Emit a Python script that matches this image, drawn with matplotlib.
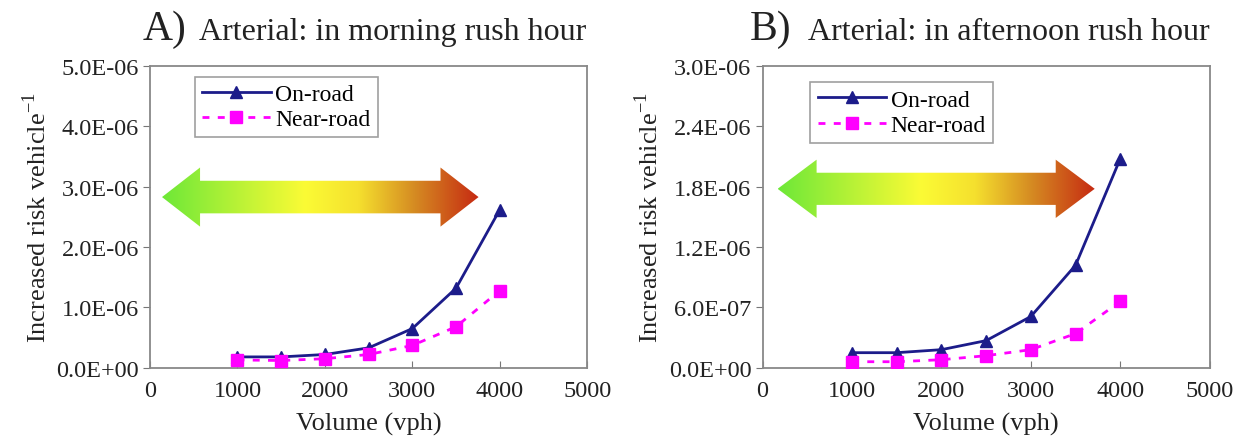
import matplotlib
matplotlib.use("Agg")
import matplotlib.pyplot as plt
import numpy as np
from matplotlib.colors import LinearSegmentedColormap
from matplotlib.patches import Polygon

plt.rcParams['font.family'] = ['Liberation Serif', 'DejaVu Serif']
plt.rcParams['mathtext.fontset'] = 'custom'
plt.rcParams['mathtext.rm'] = 'Liberation Serif'

volume = [1000, 1500, 2000, 2500, 3000, 3500, 4000]

# A) morning rush hour
on_road_a = [0.18e-6, 0.18e-6, 0.22e-6, 0.33e-6, 0.65e-6, 1.32e-6, 2.62e-6]
near_road_a = [0.13e-6, 0.12e-6, 0.15e-6, 0.22e-6, 0.37e-6, 0.68e-6, 1.28e-6]

# B) afternoon rush hour
on_road_b = [0.15e-6, 0.15e-6, 0.18e-6, 0.27e-6, 0.51e-6, 1.02e-6, 2.08e-6]
near_road_b = [0.06e-6, 0.06e-6, 0.08e-6, 0.12e-6, 0.18e-6, 0.34e-6, 0.66e-6]

yticks_a = [0, 1e-6, 2e-6, 3e-6, 4e-6, 5e-6]
yticks_b = [0, 6e-7, 1.2e-6, 1.8e-6, 2.4e-6, 3.0e-6]
xticks = [0, 1000, 2000, 3000, 4000, 5000]

grad = LinearSegmentedColormap.from_list(
    "risk", [(0, '#6ee838'), (0.45, '#fbfb35'), (0.62, '#f5e02e'),
             (0.8, '#d58a22'), (1, '#c62a12')])


def sci(v):
    return "%.1E" % v


def gradient_arrow(ax, x0, x1, yc, shaft, head, head_len):
    pts = [(x0, yc), (x0 + head_len, yc + head / 2), (x0 + head_len, yc + shaft / 2),
           (x1 - head_len, yc + shaft / 2), (x1 - head_len, yc + head / 2), (x1, yc),
           (x1 - head_len, yc - head / 2), (x1 - head_len, yc - shaft / 2),
           (x0 + head_len, yc - shaft / 2), (x0 + head_len, yc - head / 2)]
    poly = Polygon(pts, closed=True, facecolor='none', edgecolor='none',
                   transform=ax.transData)
    ax.add_patch(poly)
    img = ax.imshow(np.linspace(0, 1, 256).reshape(1, -1), cmap=grad, aspect='auto',
                    extent=[x0, x1, yc - head / 2, yc + head / 2], zorder=1,
                    interpolation='bilinear')
    img.set_clip_path(poly)


def panel(ax, on, near, yticks, arrow, leg_anchor):
    ax.plot(volume, on, color='#1c1c8a', marker='^', markersize=9, lw=2,
            label='On-road', zorder=3)
    ax.plot(volume, near, color='#ff00ff', marker='s', markersize=8.5, lw=2,
            ls=(0, (2.5, 3)), label='Near-road', zorder=3)
    ax.set_xlim(0, 5000)
    ax.set_ylim(0, yticks[-1])
    ax.set_xticks(xticks)
    ax.set_yticks(yticks)
    ax.set_yticklabels([sci(v) for v in yticks])
    ax.tick_params(axis='y', labelsize=17.5, direction='out', length=5,
                   color='#777777', labelcolor='#222222', pad=3)
    ax.tick_params(axis='x', labelsize=17.5, direction='in', length=5,
                   color='#777777', labelcolor='#222222', pad=9)
    for sp in ax.spines.values():
        sp.set_color('#888888')
        sp.set_linewidth(1.3)
    ax.set_xlabel('Volume (vph)', fontsize=19, color='#222222', labelpad=8)
    ax.set_ylabel('Increased risk vehicle$^{\\mathregular{-1}}$', fontsize=19,
                  color='#222222', labelpad=4)
    gradient_arrow(ax, *arrow)
    leg = ax.legend(loc='upper left', bbox_to_anchor=leg_anchor, fontsize=17,
                    fancybox=False, edgecolor='#888888', handlelength=2.9,
                    borderpad=0.3, labelspacing=0.15, handletextpad=0.2,
                    borderaxespad=0)
    leg.get_frame().set_linewidth(1.2)


fig = plt.figure(figsize=(12.42, 4.39), dpi=100)
ax1 = fig.add_axes([0.1208, 0.16, 0.352, 0.687])
ax2 = fig.add_axes([0.614, 0.16, 0.36, 0.687])

panel(ax1, on_road_a, near_road_a, yticks_a,
      (137, 3757, 2.83e-6, 0.54e-6, 0.98e-6, 435), (0.103, 0.965))
panel(ax2, on_road_b, near_road_b, yticks_b,
      (168, 3714, 1.78e-6, 0.32e-6, 0.58e-6, 436), (0.107, 0.947))

ytit = 1 - 40 / 439
fig.text(143 / 1242, ytit, 'A)', fontsize=30, va='baseline', color='#222222')
fig.text(199 / 1242, ytit, 'Arterial: in morning rush hour', fontsize=23,
         va='baseline', color='#222222')
fig.text(750 / 1242, ytit, 'B)', fontsize=30, va='baseline', color='#222222')
fig.text(808 / 1242, ytit, 'Arterial: in afternoon rush hour', fontsize=23,
         va='baseline', color='#222222')

fig.savefig('out.png', dpi=100)
